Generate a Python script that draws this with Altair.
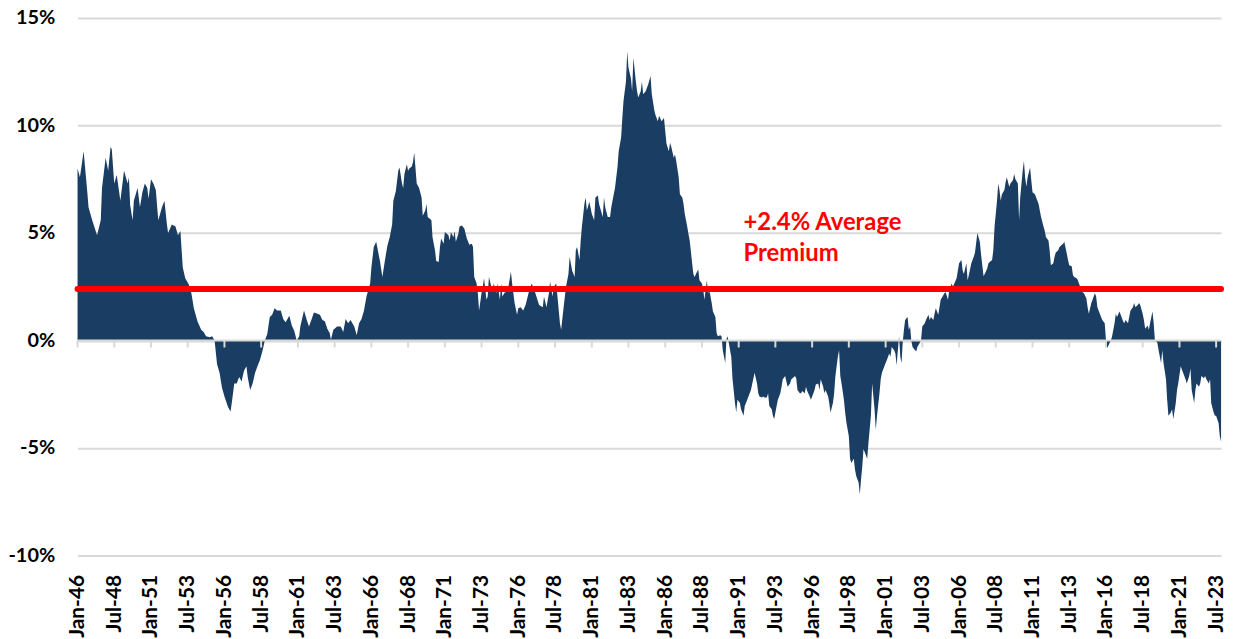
import altair as alt
import pandas as pd

# ---- Data (months since Jan-1946, premium in %) ----
months_a = [0, 2, 5, 8, 9, 12, 16, 19, 20, 23,
            25, 27, 28, 30, 32, 34, 35, 38, 41, 42,
            43, 45, 46, 49, 51, 53, 55, 57, 58, 60,
            62, 64, 66, 69, 71, 73, 74, 77, 80, 82,
            84, 85, 86, 88, 90, 91, 93, 95, 98, 101,
            103, 105, 108, 110, 112, 114, 116, 118, 120, 123,
            125, 126, 128, 130, 132, 134, 136, 138, 139, 141,
            143, 145, 147, 149, 151, 153, 155, 157, 159, 161,
            163, 166, 168, 170, 173, 175, 177, 179]
pct_a = [8.0, 7.6, 8.8, 6.9, 6.2, 5.6, 4.9, 5.6, 7.1, 8.5,
         7.9, 9.0, 8.9, 7.3, 7.7, 6.9, 6.5, 7.9, 7.3, 7.6,
         6.3, 5.6, 6.5, 7.1, 6.2, 6.9, 7.3, 7.1, 6.6, 7.5,
         7.3, 7.0, 5.6, 6.2, 6.5, 5.4, 5.0, 5.4, 5.3, 4.9,
         5.1, 4.2, 3.4, 2.9, 2.7, 2.6, 2.2, 1.5, 0.9, 0.5,
         0.4, 0.2, 0.15, 0.2, 0.0, -1.1, -1.5, -2.2, -2.6, -3.1,
         -3.3, -2.9, -2.0, -2.0, -1.7, -1.9, -1.4, -1.2, -1.7, -2.3,
         -2.0, -1.5, -1.2, -0.9, -0.5, 0.0, 0.3, 1.1, 1.2, 1.5,
         1.4, 1.4, 1.0, 0.85, 1.15, 0.7, 0.45, 0.0]

months_b = [181, 182, 185, 187, 189, 191, 193, 196, 198, 200,
            202, 204, 206, 207, 209, 212, 215, 217, 219, 221,
            223, 226, 228, 230, 232, 234, 236, 239, 240, 242,
            244, 246, 247, 249, 251, 253, 255, 257, 258, 260,
            262, 263, 265, 266, 267, 269, 270, 271, 273, 274,
            275, 277, 279, 281, 282, 284, 285, 286, 288, 289,
            290, 292, 293, 295, 296, 297, 299, 300, 303, 304,
            305, 307, 308, 309, 311, 312, 314, 316, 318, 320,
            322, 323, 324, 326, 327, 328, 330, 331, 332, 334,
            335, 336, 338, 339, 340, 342, 343, 345, 346, 347,
            349, 350, 352, 354, 355, 357, 359, 360, 362, 364,
            366, 369, 371, 374]
pct_b = [0.2, 0.65, 1.4, 1.0, 0.65, 0.95, 1.3, 1.25, 1.2, 0.95,
         0.9, 0.55, 0.35, 0.05, 0.5, 0.65, 0.65, 0.4, 1.0, 0.8,
         0.95, 0.65, 0.25, 0.8, 1.0, 1.4, 2.05, 2.65, 3.4, 4.35,
         4.6, 4.0, 3.7, 2.95, 3.7, 4.4, 4.8, 5.4, 6.5, 6.95,
         7.9, 8.05, 7.3, 7.1, 7.75, 8.2, 7.9, 8.0, 8.1, 8.3,
         8.75, 7.3, 7.1, 6.65, 5.8, 6.05, 6.35, 5.75, 5.65, 5.6,
         4.8, 4.2, 3.7, 3.65, 4.35, 4.75, 4.5, 5.05, 4.9, 4.65,
         5.05, 4.8, 5.1, 4.6, 4.95, 5.3, 5.35, 5.2, 4.75, 4.45,
         4.5, 4.35, 2.95, 2.65, 2.2, 1.4, 2.2, 2.5, 2.9, 1.9,
         2.05, 2.95, 2.5, 2.35, 2.65, 2.2, 2.65, 1.9, 2.65, 2.05,
         2.25, 2.25, 2.5, 3.2, 2.65, 1.75, 1.2, 1.5, 1.55, 1.4,
         1.65, 2.35, 2.65, 2.2]

months_c = [377, 380, 381, 383, 385, 386, 388, 389, 391, 392,
            394, 395, 397, 399, 401, 402, 404, 406, 407, 408,
            410, 411, 412, 414, 415, 416, 418, 420, 422, 423,
            425, 426, 429, 430, 431, 433, 435, 436, 438, 439,
            441, 442, 444, 445, 446, 448, 449, 450, 452, 453,
            454, 456, 457, 458, 460, 461, 462, 464, 465, 466,
            468, 469, 471, 472, 474, 475, 477, 479, 480, 481,
            483, 484, 485, 487, 488, 489, 491, 492, 494, 495,
            496, 498, 499, 500, 502, 503, 504, 506, 507, 508,
            510, 511, 512, 514, 515, 516, 518, 519, 521, 522,
            523, 525, 526, 527, 529, 530, 531, 533, 534, 535,
            537, 538, 539, 541, 542, 544, 545, 546, 548, 550]
pct_c = [1.65, 1.55, 2.05, 1.55, 2.2, 2.75, 2.05, 2.5, 2.65, 2.05,
         0.8, 0.5, 1.55, 2.5, 3.1, 3.9, 3.25, 2.95, 4.2, 4.35,
         3.75, 4.65, 5.3, 6.35, 6.65, 6.05, 6.45, 5.9, 5.6, 6.65,
         6.75, 6.35, 5.75, 6.65, 6.2, 5.75, 5.75, 6.2, 6.8, 7.1,
         8.05, 8.8, 9.45, 10.4, 11.15, 12.05, 13.45, 12.7, 12.2, 11.6,
         13.15, 12.05, 11.6, 11.3, 11.6, 12.05, 11.45, 11.6, 11.75, 11.9,
         12.3, 11.45, 10.75, 10.5, 10.2, 10.45, 10.2, 10.35, 9.75, 9.15,
         8.8, 9.2, 9.0, 8.5, 8.65, 8.35, 7.6, 6.8, 6.65, 6.35,
         5.9, 5.3, 4.95, 4.65, 3.6, 3.1, 2.95, 3.2, 3.3, 2.8,
         2.65, 2.4, 1.9, 2.8, 2.2, 2.35, 1.75, 1.35, 1.1, 0.35,
         0.2, 0.25, 0.2, -0.45, -1.05, 0.05, 0.2, -0.45, -0.75, -1.8,
         -2.9, -3.35, -2.75, -2.9, -3.2, -3.5, -3.05, -2.9, -2.6, -2.3]

months_d = [553, 555, 556, 557, 559, 560, 561, 563, 564, 565,
            567, 568, 569, 571, 572, 574, 575, 576, 578, 579,
            580, 582, 583, 584, 586, 587, 588, 590, 591, 592,
            594, 595, 596, 598, 599, 601, 602, 603, 605, 606,
            607, 609, 610, 611, 613, 614, 615, 617, 618, 619,
            621, 622, 623, 624, 626, 627, 628, 630, 631, 632,
            634, 635, 636, 638, 639, 640, 641, 642, 644, 645,
            646, 648, 649, 651, 652, 653, 655, 656, 657, 659,
            660, 661, 663, 664, 665, 667, 668, 669, 670, 671,
            672, 673, 674, 675, 676, 678, 679, 680, 681, 682,
            684, 685, 686, 688, 689, 690, 692, 693, 695, 696,
            697, 699, 700, 701, 703, 704, 705, 707, 708, 709,
            711, 712, 714, 715, 718, 720, 722, 723, 724, 726,
            727, 728, 730, 732, 733]
pct_d = [-1.5, -2.0, -2.45, -2.6, -2.65, -2.6, -2.65, -2.65, -2.45, -3.05,
         -3.2, -3.5, -3.65, -3.05, -2.75, -2.45, -2.15, -1.8, -1.65, -1.9,
         -2.15, -2.0, -1.8, -1.75, -1.65, -1.75, -2.3, -2.45, -2.45, -2.35,
         -2.45, -2.15, -2.35, -2.6, -2.75, -2.45, -2.3, -2.05, -2.0, -2.3,
         -1.8, -2.15, -2.45, -2.3, -2.6, -2.9, -3.35, -2.9, -2.45, -1.65,
         -0.75, -0.45, -1.65, -2.0, -2.75, -3.35, -3.8, -4.45, -5.5, -5.7,
         -5.5, -6.0, -6.3, -6.6, -7.15, -6.45, -5.85, -5.05, -5.35, -5.5,
         -4.75, -3.5, -2.0, -3.2, -4.15, -3.5, -2.45, -1.8, -1.5, -1.2,
         -1.05, -0.9, -0.6, -0.75, -0.3, -0.45, -0.6, -1.15, -0.45, 0.2,
         -0.75, -1.05, -0.1, 0.5, 0.95, 1.1, 0.5, 0.65, 0.0, -0.3,
         -0.45, -0.5, -0.3, -0.1, 0.05, 0.65, 0.8, 0.95, 1.2, 0.95,
         1.1, 0.95, 1.25, 1.5, 1.2, 1.55, 1.9, 2.1, 2.2, 2.25,
         1.9, 2.35, 2.65, 2.5, 2.9, 3.6, 3.75, 3.25, 3.1, 3.6,
         2.8, 3.05, 3.6, 3.9, 4.1]

months_e = [735, 737, 738, 740, 741, 743, 744, 745, 747, 748,
            749, 751, 752, 753, 754, 755, 757, 758, 759, 761,
            762, 764, 765, 766, 768, 769, 770, 772, 773, 774,
            775, 776, 778, 779, 780, 782, 783, 785, 786, 787,
            789, 790, 791, 793, 794, 795, 797, 798, 799, 801,
            802, 804, 805, 806, 808, 809, 810, 812, 813, 814,
            816, 817, 818, 820, 821, 822, 824, 825, 826, 828,
            829, 831, 832, 833, 835, 836, 837, 839, 840, 841,
            843, 844, 845, 847, 848, 849, 851, 852, 854, 855,
            856, 858, 859, 860, 862, 863, 864, 866, 867, 868,
            870, 871, 872, 874, 875, 876, 878, 879, 880, 881,
            882, 883, 885, 886, 887, 889, 890, 891, 893, 894,
            895, 897, 898, 899, 901, 902, 904, 905, 906, 908,
            909, 910, 912, 913, 914, 916, 917, 918, 920, 921,
            922, 924, 925, 926, 928, 929, 930, 932, 933, 934]
pct_e = [5.0, 4.6, 4.0, 3.0, 3.1, 3.35, 3.6, 3.65, 3.75, 4.2,
         5.3, 6.5, 7.3, 7.0, 6.5, 6.8, 7.0, 7.35, 7.6, 7.15,
         7.3, 7.45, 7.75, 7.5, 7.3, 5.6, 6.65, 7.9, 8.35, 7.6,
         7.15, 7.6, 8.05, 7.45, 6.9, 6.8, 6.65, 6.35, 6.05, 5.75,
         5.3, 5.1, 4.8, 4.65, 4.2, 3.5, 3.6, 3.9, 4.1, 4.2,
         4.35, 4.45, 4.5, 4.6, 4.05, 3.75, 3.5, 3.45, 3.05, 2.95,
         2.9, 2.8, 2.65, 2.35, 2.25, 2.2, 1.95, 1.55, 1.25, 1.75,
         1.9, 2.2, 2.05, 1.55, 1.25, 1.1, 0.95, 0.8, 0.0, -0.35,
         -0.1, 0.0, 0.2, 0.8, 1.25, 1.1, 1.35, 1.2, 0.9, 0.8,
         0.95, 0.8, 1.1, 1.4, 1.55, 1.75, 1.55, 1.65, 1.75, 1.65,
         1.25, 0.95, 0.55, 0.7, 0.5, 0.8, 1.35, 0.8, 0.0, -0.05,
         -0.1, -0.45, -1.05, -0.45, -1.05, -1.8, -2.75, -3.5, -3.35, -3.2,
         -3.65, -2.9, -2.3, -2.0, -1.2, -1.35, -1.65, -1.8, -2.0, -1.65,
         -1.3, -2.3, -2.9, -2.3, -2.0, -2.15, -2.0, -1.65, -1.75, -1.65,
         -1.8, -2.0, -1.8, -2.9, -3.35, -3.5, -3.5, -3.85, -4.45, -4.7]

tick_labels = ["Jan-46", "Jul-48", "Jan-51", "Jul-53", "Jan-56", "Jul-58", "Jan-61", "Jul-63",
               "Jan-66", "Jul-68", "Jan-71", "Jul-73", "Jan-76", "Jul-78", "Jan-81", "Jul-83",
               "Jan-86", "Jul-88", "Jan-91", "Jul-93", "Jan-96", "Jul-98", "Jan-01", "Jul-03",
               "Jan-06", "Jul-08", "Jan-11", "Jul-13", "Jan-16", "Jul-18", "Jan-21", "Jul-23"]
y_ticks = [-10, -5, 0, 5, 10, 15]
avg_premium = 2.4
annotation_text = "+2.4% Average\nPremium"
annotation_month = 544      # where the label starts (early 1991)
annotation_level = 5.14     # baseline of first text line, in %

# ---- Build tables ----
months = months_a + months_b + months_c + months_d + months_e
pct = pct_a + pct_b + pct_c + pct_d + pct_e
for mm, pp in [(months_a, pct_a), (months_b, pct_b), (months_c, pct_c), (months_d, pct_d), (months_e, pct_e)]:
    if len(mm) != len(pp):
        raise ValueError(f"length mismatch {len(mm)} vs {len(pp)}")


def mdate(m):
    return f"{1946 + m // 12}-{m % 12 + 1:02d}-01"


def mdt(m):
    return alt.DateTime(year=1946 + m // 12, month=m % 12 + 1, date=1, utc=True)


def label_to_date(lbl):
    mon, yy = lbl.split("-")
    yy = int(yy)
    year = 1900 + yy if yy >= 30 else 2000 + yy
    return f"{year}-{'01' if mon == 'Jan' else '07'}-01"


def label_to_dt(lbl):
    mon, yy = lbl.split("-")
    yy = int(yy)
    year = 1900 + yy if yy >= 30 else 2000 + yy
    return alt.DateTime(year=year, month=1 if mon == "Jan" else 7, date=1, utc=True)


df = pd.DataFrame({"date": [mdate(m) for m in months], "premium": pct})
avg_df = pd.DataFrame({"start": [mdate(months[0])], "end": [mdate(months[-1])], "avg": [avg_premium]})
ann_df = pd.DataFrame({"date": [mdate(annotation_month)], "level": [annotation_level],
                       "label": [annotation_text]})
tick_df = pd.DataFrame({"date": [label_to_date(t) for t in tick_labels]})
tick_values = [label_to_dt(t) for t in tick_labels]

FONT = "Lato"
GRID = "#D9D9D9"
NAVY = "#1a3d63"

x_scale = alt.Scale(type="utc", domain=[mdt(months[0]), mdt(months[-1])], nice=False)
y_scale = alt.Scale(domain=[-10, 15], nice=False, zero=False)

y_axis = alt.Axis(values=y_ticks, labelExpr="datum.value + '%'", title=None, grid=True,
                  gridColor=GRID, gridWidth=2, domain=False, ticks=False, labelPadding=23,
                  labelFont=FONT, labelFontSize=20, labelFontWeight="bold", labelColor="#000000")

x_axis = alt.Axis(values=tick_values, labelExpr="utcFormat(datum.value, '%b-%y')",
                  labelAngle=-90, labelAlign="right", labelBaseline="middle", labelPadding=19,
                  ticks=False, tickSize=0, domain=False, grid=False, title=None,
                  labelOverlap=False, labelFlush=False, labelBound=False,
                  labelFont=FONT, labelFontSize=21, labelFontWeight="bold",
                  labelColor="#000000")

area = alt.Chart(df).mark_area(color=NAVY, interpolate="linear").encode(
    x=alt.X("date:T", scale=x_scale, axis=x_axis),
    y=alt.Y("premium:Q", scale=y_scale, axis=y_axis),
)

zero_line = alt.Chart(avg_df).mark_rule(color=GRID, strokeWidth=2).encode(
    y=alt.Y(datum=0, scale=y_scale, axis=y_axis),
)

zero_ticks = alt.Chart(tick_df).mark_tick(orient="vertical", color=GRID, thickness=2,
                                          size=7, yOffset=3.5, opacity=1).encode(
    x=alt.X("date:T", scale=x_scale, axis=x_axis),
    y=alt.Y(datum=0, scale=y_scale, axis=y_axis),
)

avg_rule = alt.Chart(avg_df).mark_rule(color="#FF0000", strokeWidth=6, strokeCap="round").encode(
    x=alt.X("start:T", scale=x_scale, axis=x_axis),
    x2="end:T",
    y=alt.Y("avg:Q", scale=y_scale, axis=y_axis),
)

ann = alt.Chart(ann_df).mark_text(align="left", baseline="alphabetic", lineBreak="\n",
                                  lineHeight=31.5, font=FONT, fontSize=24, fontWeight="bold",
                                  color="#FF0000").encode(
    x=alt.X("date:T", scale=x_scale, axis=x_axis),
    y=alt.Y("level:Q", scale=y_scale, axis=y_axis),
    text="label:N",
)

chart = alt.layer(area, zero_line, zero_ticks, avg_rule, ann).properties(
    width=1151, height=541,
    autosize=alt.AutoSizeParams(type="none"),
    padding={"left": 70, "top": 8, "right": 10, "bottom": 95},
    background="white",
).configure_view(stroke=None)

chart.save("out.html", embed_options={"renderer": "svg", "actions": False})
